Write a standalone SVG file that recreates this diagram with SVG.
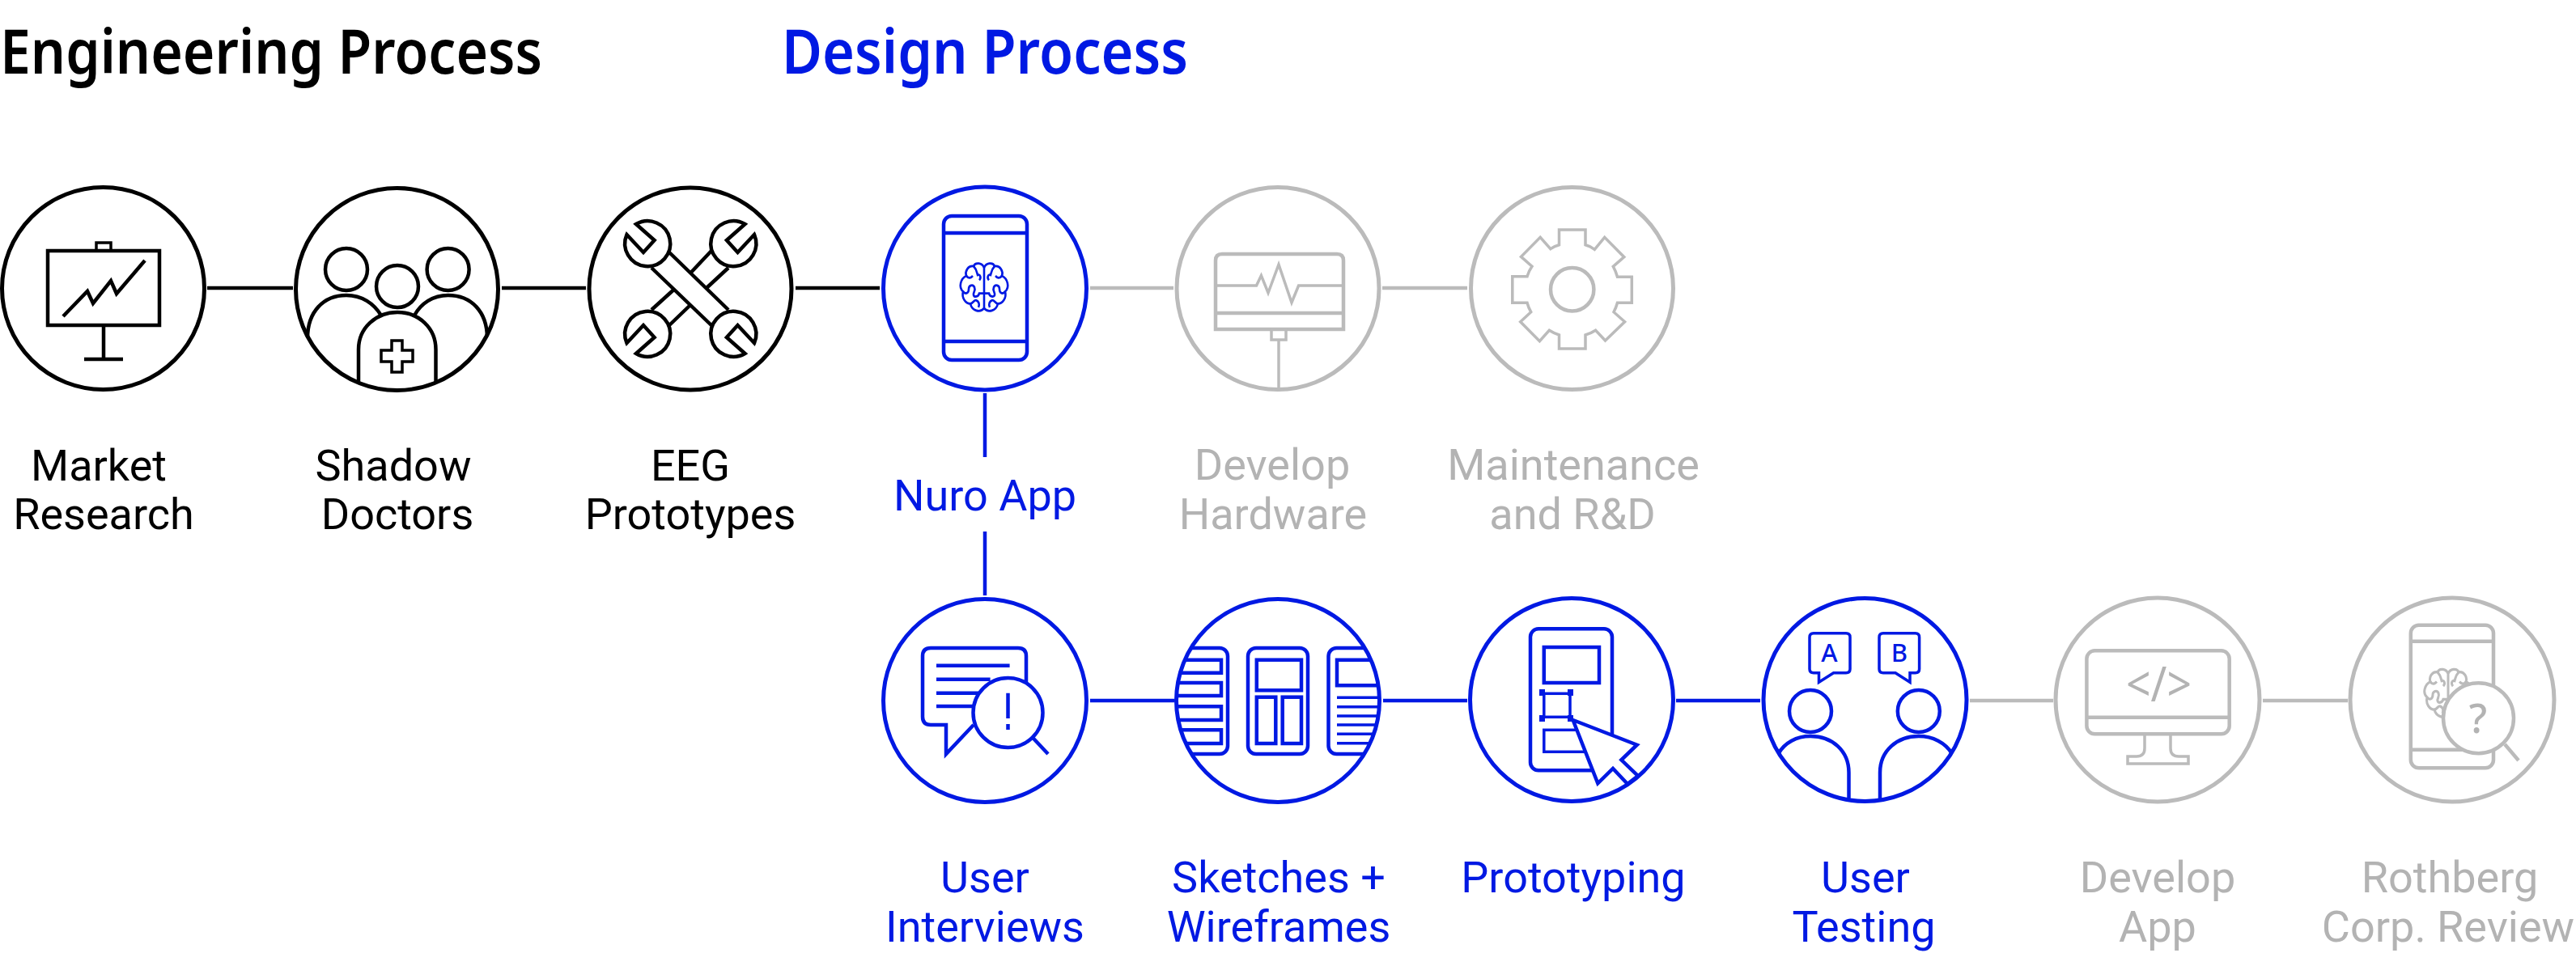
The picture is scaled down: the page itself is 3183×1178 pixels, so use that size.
<svg xmlns="http://www.w3.org/2000/svg" width="3183" height="1178" viewBox="0 0 3183 1178">
<style>
text{font-family:Roboto,"Liberation Sans",sans-serif;font-size:54px;text-anchor:middle}
.title{font-family:"Noto Sans","Liberation Sans",sans-serif;font-size:76px;font-weight:600;text-anchor:start}
.k{stroke:#000;fill:none;stroke-width:4.5}
.b{stroke:#0019e3;fill:none;stroke-width:4.5}
.g{stroke:#bbb;fill:none;stroke-width:4.5}
.k circle.o,.b circle.o,.g circle.o{fill:#fff;stroke-width:5}
.w{fill:#fff}
.tk{fill:#000}.tb{fill:#0019e3}.tg{fill:#b3b3b3}
.thin{stroke-width:3.5}
.icon-text{font-family:"Noto Sans","Liberation Sans",sans-serif;stroke:none}
</style>
<defs>
<g id="brain">
<path d="M0-22C-2-28-11-29-13-24C-20-25-24-18-22-13C-29-10-32 0-26 5C-28 12-23 19-17 19C-15 27-5 30 0 24C5 30 15 27 17 19C23 19 28 12 26 5C32 0 29-10 22-13C24-18 20-25 13-24C11-29 2-28 0-22ZM0-22V24"/>
<path d="M-13-24C-9-20-9-17-8-14C-5-15-3-11-6-8M-22-13C-19-9-16-11-14-13M-26 5C-22 9-19 6-19 2C-19-2-14-4-12 0C-10 4-14 6-13 9C-12 12-7 11-6 7H0M-17 19C-13 18-12 14-10 15C-7 16-5 19-7 23"/>
<path d="M13-24C9-20 9-17 8-14C5-15 3-11 6-8M22-13C19-9 16-11 14-13M26 5C22 9 19 6 19 2C19-2 14-4 12 0C10 4 14 6 13 9C12 12 7 11 6 7H0M17 19C13 18 12 14 10 15C7 16 5 19 7 23"/>
</g>
<path id="jaw" d="M786 277L808.6 297L795 312L774.5 290A28 28 0 1 0 786 277Z"/>
<clipPath id="cWire"><circle cx="1579" cy="866" r="126"/></clipPath>
<clipPath id="cProto"><circle cx="1942" cy="865" r="126"/></clipPath>
<clipPath id="cTest"><circle cx="2304.5" cy="865" r="126"/></clipPath>
<clipPath id="cDocs"><circle cx="490.5" cy="357.5" r="126"/></clipPath>
</defs>

<text class="title tk" x="0" y="91" textLength="670" lengthAdjust="spacingAndGlyphs">Engineering Process</text>
<text class="title tb" x="966" y="91" textLength="502" lengthAdjust="spacingAndGlyphs">Design Process</text>

<g id="connectors">
<path class="k" d="M256 356H362M620 356H724M983 356H1087"/>
<path class="g" d="M1347 356H1450M1708 356H1813"/>
<path class="b" d="M1217 486V565M1217 657V736M1347 866H1451M1709 866H1813M2071 866H2175"/>
<path class="g" d="M2434 866H2537M2796 866H2901"/>
</g>

<g id="market-research" class="k">
<circle class="o" cx="127.5" cy="356.5" r="125"/>
<rect x="59" y="310" width="138" height="92"/>
<rect class="thin" x="119" y="300" width="18" height="10"/>
<path d="M128 402V443M104 444H152"/>
<path d="M78 391L108 360L115 375L137 347L144 363L179 322"/>
<text class="tk" x="122" y="594" stroke="none">Market</text>
<text class="tk" x="128" y="654" stroke="none">Research</text>
</g>

<g id="shadow-doctors" class="k">
<circle class="o" cx="490.5" cy="357.5" r="125"/>
<g clip-path="url(#cDocs)">
<circle cx="428" cy="333" r="26"/>
<circle cx="491" cy="354" r="26"/>
<circle cx="553.6" cy="333" r="26"/>
<path d="M380 418C380 385 400 365 428 365C447 365 462 375 471 390"/>
<path d="M602 418C602 385 582 365 553.6 365C535 365 520 375 512 390"/>
<path d="M443 480V432C443 405 465 386 491 386C517 386 538.5 405 538.5 432V480"/>
</g>
<path class="thin" d="M484 421H497V433H510V447H497V460H484V447H471V433H484Z"/>
<text class="tk" x="486" y="594" stroke="none">Shadow</text>
<text class="tk" x="491" y="654" stroke="none">Doctors</text>
</g>

<g id="eeg-prototypes" class="k">
<circle class="o" cx="853" cy="357" r="125"/>
<use href="#jaw"/>
<use href="#jaw" transform="matrix(-1 0 0 1 1706.5 0)"/>
<use href="#jaw" transform="matrix(1 0 0 -1 0 714)"/>
<use href="#jaw" transform="matrix(-1 0 0 -1 1706.5 714)"/>
<path d="M805 331L880 403"/>
<path d="M826 311L900 383"/>
<path d="M880 309L853.6 337M900 331L873 356M832.6 358L805 383M852 378L826 403"/>
<text class="tk" x="853" y="594" stroke="none">EEG</text>
<text class="tk" x="853" y="654" stroke="none">Prototypes</text>
</g>

<g id="nuro-app" class="b">
<circle class="o" cx="1217" cy="356.5" r="125.5"/>
<rect x="1166" y="267" width="103" height="178" rx="10"/>
<path d="M1166 288H1269M1166 422H1269"/>
<use href="#brain" transform="translate(1216 355) scale(1 1.08)" stroke-width="2.6"/>
<text class="tb" x="1217" y="631" stroke="none">Nuro App</text>
</g>

<g id="develop-hardware" class="g">
<circle class="o" cx="1579" cy="356.5" r="125"/>
<path d="M1502 407V322Q1502 314 1510 314H1652Q1660 314 1660 322V407Z"/>
<path d="M1502 387H1660"/>
<path class="thin" d="M1502 353H1552.5L1558.4 340.7L1567 362L1580 327L1596 374L1604.6 353H1660"/>
<rect class="thin" x="1571" y="407" width="18" height="13"/>
<path class="thin" d="M1580 420V483"/>
<text class="tg" x="1572" y="593" stroke="none">Develop</text>
<text class="tg" x="1573" y="654" stroke="none">Hardware</text>
</g>

<g id="maintenance" class="g">
<circle class="o" cx="1942.5" cy="356.5" r="125"/>
<path class="thin" d="M1926.5 284H1959V302.7Q1965 304 1970.4 308.3L1982.7 293.3L2006.8 317.7L1993.3 329.3Q1996.5 335 1998.5 342.3H2016.3V374.3H1998.5Q1997 380 1994 385.7L2007.6 397.7L1983.5 421L1971.6 408.3Q1966 412 1959 414V431H1926.5V414Q1920 412 1914.3 408.3L1902.4 421.7L1878.7 397.7L1891.7 385.7Q1888.5 380 1887 374.3H1868.8V341.7H1887Q1889 335 1893 329.3L1879.5 317.3L1903.2 293.3L1915.9 307.7Q1921 304 1926.5 302.7Z"/>
<circle cx="1942.7" cy="357.7" r="26.7"/>
<text class="tg" x="1944" y="593" stroke="none">Maintenance</text>
<text class="tg" x="1943" y="654" stroke="none">and R&amp;D</text>
</g>

<g id="user-interviews" class="b">
<circle class="o" cx="1217" cy="866" r="125.5"/>
<path d="M1203 896L1169 932V896H1150Q1140 896 1140 886V811Q1140 801 1150 801H1258Q1268 801 1268 811V845"/>
<path d="M1157 822.7H1247.6M1157 839.7H1223.6M1157 856.7H1209M1157 873H1202.6"/>
<circle class="w" cx="1245.5" cy="881" r="43"/>
<path d="M1276 911.7L1295 932"/>
<path d="M1245.5 856.7V888M1245.5 895V902"/>
<text class="tb" x="1217" y="1103" stroke="none">User</text>
<text class="tb" x="1217" y="1164" stroke="none">Interviews</text>
</g>

<g id="sketches-wireframes" class="b">
<circle class="o" cx="1579" cy="866" r="125.5"/>
<g clip-path="url(#cWire)">
<rect x="1443" y="801" width="74" height="131" rx="10"/>
<path d="M1430 815.7H1509V831.7H1430M1430 844H1509V860H1430M1430 873.3H1509V890H1430M1430 902.3H1509V919H1430"/>
<rect x="1542" y="801" width="74" height="131" rx="10"/>
<rect x="1552.8" y="815.7" width="55.2" height="37.6"/>
<rect x="1552.8" y="861.7" width="23.5" height="57.3"/>
<rect x="1584.7" y="861.7" width="23.3" height="57.3"/>
<rect x="1641.5" y="801" width="74" height="131" rx="10"/>
<path d="M1730 815.7H1652V847.3H1730"/>
<path class="thin" d="M1652 862.3H1730M1652 873.7H1730M1652 885H1730M1652 896H1730M1652 907.3H1730M1652 918.7H1730"/>
</g>
<text class="tb" x="1580" y="1103" stroke="none">Sketches +</text>
<text class="tb" x="1580" y="1164" stroke="none">Wireframes</text>
</g>

<g id="prototyping" class="b">
<circle class="o" cx="1942" cy="865" r="125.5"/>
<rect x="1891" y="777.3" width="101" height="175" rx="10"/>
<rect x="1907.8" y="800" width="68.2" height="44"/>
<rect class="thin" x="1907.8" y="857.3" width="32.2" height="29"/>
<path d="M1902 852H1909V860H1902ZM1937 852H1944V860H1937ZM1902 884H1909V892H1902ZM1937 884H1944V892H1937Z" fill="#0019e3" stroke="none"/>
<rect class="thin" x="1907.8" y="902.3" width="60" height="27"/>
<g clip-path="url(#cProto)">
<path class="w" d="M1943.6 890L2022.7 920.7L2003.4 939.3L2024 959L2011 969L1993 950L1974.3 968.3Z"/>
</g>
<text class="tb" x="1944" y="1103" stroke="none">Prototyping</text>
</g>

<g id="user-testing" class="b">
<circle class="o" cx="2304.5" cy="865" r="125.5"/>
<circle cx="2237" cy="879" r="26"/>
<circle cx="2370.8" cy="879" r="26"/>
<g clip-path="url(#cTest)">
<path d="M2197.4 931.7C2205 918 2220 910 2237 910C2264 910 2284.5 928 2284.5 955V992"/>
<path d="M2412 931.7C2404 918 2388 910 2370.8 910C2344 910 2323 928 2323 955V992"/>
</g>
<path class="thin" d="M2247.5 831.7V843.3L2265.6 831.7H2281Q2286 831.7 2286 827V787.7Q2286 782.7 2281 782.7H2241Q2236 782.7 2236 787.7V827Q2236 831.7 2241 831.7Z"/>
<path class="thin" d="M2342 831.7L2360 843.3V831.7H2366.6Q2371.6 831.7 2371.6 827V787.7Q2371.6 782.7 2366.6 782.7H2327Q2322 782.7 2322 787.7V827Q2322 831.7 2327 831.7Z"/>
<text class="icon-text tb" x="2260.5" y="818.3" style="font-size:31px;font-weight:500">A</text>
<text class="icon-text tb" x="2346.8" y="818.3" style="font-size:31px;font-weight:500">B</text>
<text class="tb" x="2305" y="1103" stroke="none">User</text>
<text class="tb" x="2303" y="1164" stroke="none">Testing</text>
</g>

<g id="develop-app" class="g">
<circle class="o" cx="2666" cy="865" r="126"/>
<rect x="2578.4" y="804.3" width="176.3" height="103" rx="10"/>
<path d="M2578.4 886.7H2754.7"/>
<path class="thin" d="M2650 907V925Q2650 935 2640 935H2629V944H2704V935H2692Q2682 935 2682 925V907"/>
<text class="icon-text tg" x="2627" y="867" style="font-size:60px;font-weight:400;text-anchor:start" textLength="81" lengthAdjust="spacingAndGlyphs">&lt;/&gt;</text>
<text class="tg" x="2666" y="1103" stroke="none">Develop</text>
<text class="tg" x="2666" y="1164" stroke="none">App</text>
</g>

<g id="rothberg-review" class="g">
<circle class="o" cx="3030" cy="865" r="126"/>
<rect x="2978.8" y="772.7" width="102.2" height="176.6" rx="10"/>
<path d="M2978.8 792.7H3081M2978.8 926.7H3081"/>
<use href="#brain" transform="translate(3025 856.7) scale(1 1.08)" stroke-width="3"/>
<circle class="w" cx="3062.5" cy="887.7" r="43.5"/>
<path d="M3095 920L3112 940"/>
<text class="icon-text tg" x="3062" y="906" style="font-size:50px;font-weight:500">?</text>
<text class="tg" x="3027" y="1103" stroke="none">Rothberg</text>
<text class="tg" x="3025" y="1164" stroke="none">Corp. Review</text>
</g>
</svg>
